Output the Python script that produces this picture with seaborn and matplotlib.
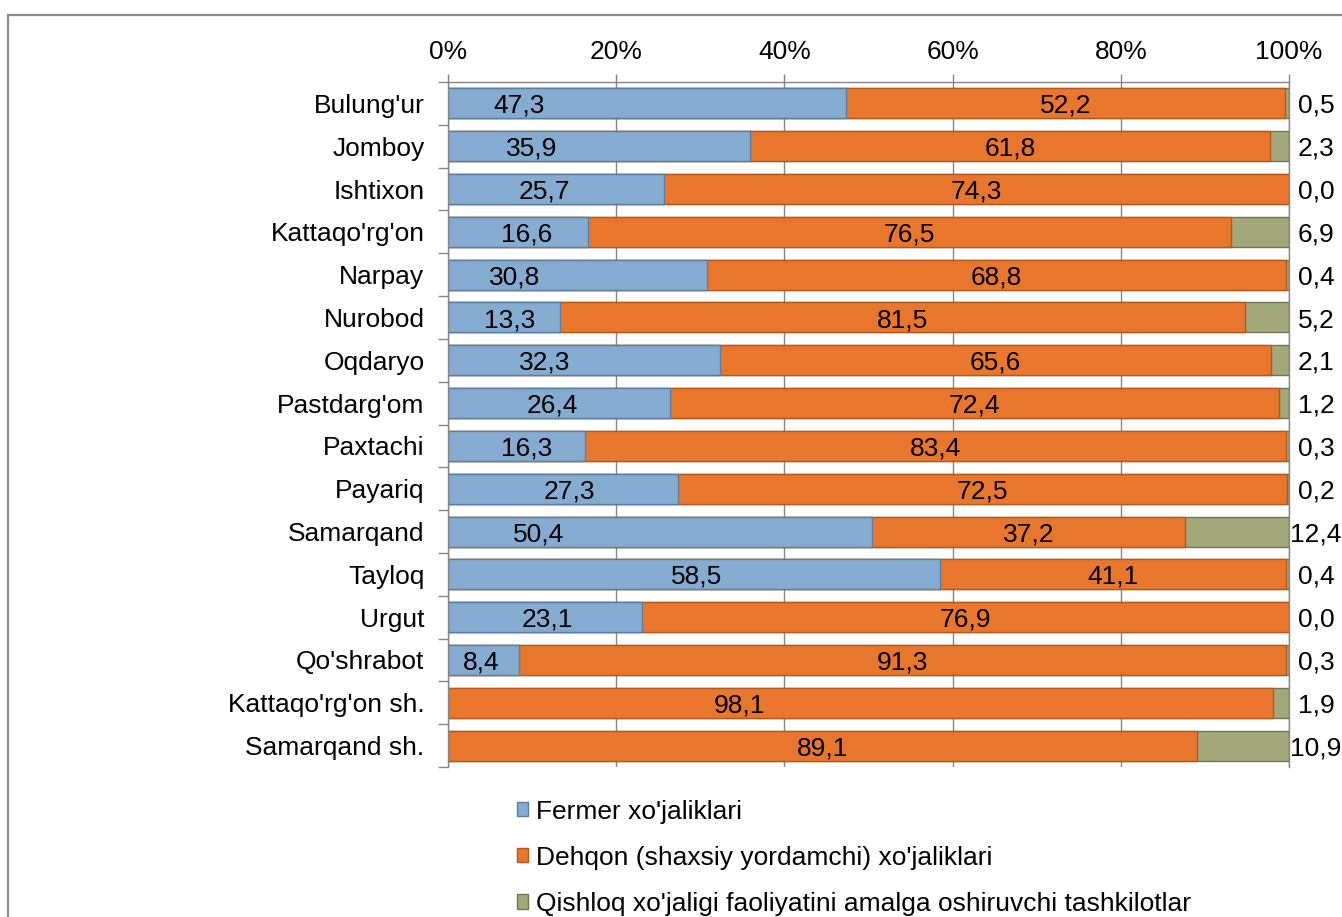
import numpy as np
import pandas as pd
import seaborn as sns
import matplotlib.pyplot as plt
from matplotlib.patches import Patch, Rectangle

# Data (percent shares by district)
regions = ["Bulung'ur", "Jomboy", "Ishtixon", "Kattaqo'rg'on", "Narpay", "Nurobod",
           "Oqdaryo", "Pastdarg'om", "Paxtachi", "Payariq", "Samarqand", "Tayloq",
           "Urgut", "Qo'shrabot", "Kattaqo'rg'on sh.", "Samarqand sh."]
fermer = [47.3, 35.9, 25.7, 16.6, 30.8, 13.3, 32.3, 26.4, 16.3, 27.3, 50.4, 58.5,
          23.1, 8.4, 0.0, 0.0]
dehqon = [52.2, 61.8, 74.3, 76.5, 68.8, 81.5, 65.6, 72.4, 83.4, 72.5, 37.2, 41.1,
          76.9, 91.3, 98.1, 89.1]
tashkilot = [0.5, 2.3, 0.0, 6.9, 0.4, 5.2, 2.1, 1.2, 0.3, 0.2, 12.4, 0.4,
             0.0, 0.3, 1.9, 10.9]
series_names = ["Fermer xo'jaliklari",
                "Dehqon (shaxsiy yordamchi) xo'jaliklari",
                "Qishloq xo'jaligi faoliyatini amalga oshiruvchi tashkilotlar"]
xticks = [0, 20, 40, 60, 80, 100]

# label placement as in the original (blue labels were moved by hand)
fermer_label_x = [8.4, 9.9, 11.5, 9.4, 7.9, 7.3, 11.5, 12.4, 9.3, 14.4, 10.8, 29.5,
                  11.8, 4.0, None, None]
dehqon_label_x = [None] * 14 + [34.6, None]

df = pd.DataFrame({'region': regions, 'fermer': fermer, 'dehqon': dehqon,
                   'tashkilot': tashkilot})
df['c2'] = df['fermer'] + df['dehqon']
df['c3'] = df['c2'] + df['tashkilot']

sns.set_style('white')
plt.rcParams['font.family'] = ['Liberation Sans', 'DejaVu Sans']
plt.rcParams['text.color'] = 'black'
plt.rcParams['xtick.labelcolor'] = 'black'
plt.rcParams['ytick.labelcolor'] = 'black'

blue, blue_e = '#86abd1', '#5b7fa4'
orange, orange_e = '#e8772d', '#b5581b'
green, green_e = '#a2a87a', '#6f7652'
grey = '#868686'
fs = 19

fig = plt.figure(figsize=(13.42, 9.17), dpi=100)
ax = fig.add_axes([448 / 1342, 1 - 767 / 917, 841 / 1342, 685 / 917])

# stacked bars drawn back to front
sns.barplot(data=df, x='c3', y='region', orient='h', color=green, saturation=1,
            width=0.7, edgecolor=green_e, linewidth=1, ax=ax)
sns.barplot(data=df, x='c2', y='region', orient='h', color=orange, saturation=1,
            width=0.7, edgecolor=orange_e, linewidth=1, ax=ax)
sns.barplot(data=df[df['fermer'] > 0], x='fermer', y='region', orient='h', color=blue,
            saturation=1, width=0.7, edgecolor=blue_e, linewidth=1, ax=ax,
            order=regions)

# data labels
for i in range(len(regions)):
    if fermer[i] > 0:
        ax.text(fermer_label_x[i], i + 0.06, f'{fermer[i]:.1f}'.replace('.', ','),
                ha='center', va='center', fontsize=fs)
    dx = dehqon_label_x[i] if dehqon_label_x[i] is not None else fermer[i] + dehqon[i] / 2
    ax.text(dx, i + 0.06, f'{dehqon[i]:.1f}'.replace('.', ','),
            ha='center', va='center', fontsize=fs)
    ax.text(103.2, i + 0.06, f'{tashkilot[i]:.1f}'.replace('.', ','),
            ha='center', va='center', fontsize=fs, clip_on=False)

ax.set_xlim(0, 100)
ax.set_ylim(15.5, -0.5)
ax.set_xlabel('')
ax.set_ylabel('')
ax.xaxis.tick_top()
ax.set_xticks(xticks)
ax.set_xticklabels([f'{v}%' for v in xticks], fontsize=fs)
ax.tick_params(axis='x', length=6, width=1, color=grey, pad=7, direction='out')
ax.set_yticks(range(len(regions)))
ax.set_yticklabels(regions, fontsize=fs)
ax.set_yticks(np.arange(-0.5, len(regions), 1), minor=True)
ax.tick_params(axis='y', which='major', length=0, pad=17)
ax.tick_params(axis='y', which='minor', length=7, width=1, color=grey, left=True)
ax.grid(axis='x', color=grey, lw=1)
ax.set_axisbelow(True)
for side in ['left', 'top', 'right']:
    ax.spines[side].set_visible(True)
    ax.spines[side].set_color(grey)
    ax.spines[side].set_linewidth(1)
ax.spines['bottom'].set_visible(False)

handles = [Patch(facecolor=blue, edgecolor=blue_e),
           Patch(facecolor=orange, edgecolor=orange_e),
           Patch(facecolor=green, edgecolor=green_e)]
fig.legend(handles, series_names, loc='upper left',
           bbox_to_anchor=(506 / 1342, 1 - 789 / 917), frameon=False, fontsize=fs,
           handlelength=0.45, handleheight=0.45, handletextpad=0.3,
           labelspacing=0.84, borderaxespad=0)

# outer chart border (cut off at the right and bottom in the original)
fig.patches.append(Rectangle((8 / 1342, -0.1), 1.2, 1 - 15 / 917 + 0.1,
                             transform=fig.transFigure, fill=False,
                             edgecolor='#8c8c8c', lw=1.6))

fig.savefig('out.png', dpi=100)
